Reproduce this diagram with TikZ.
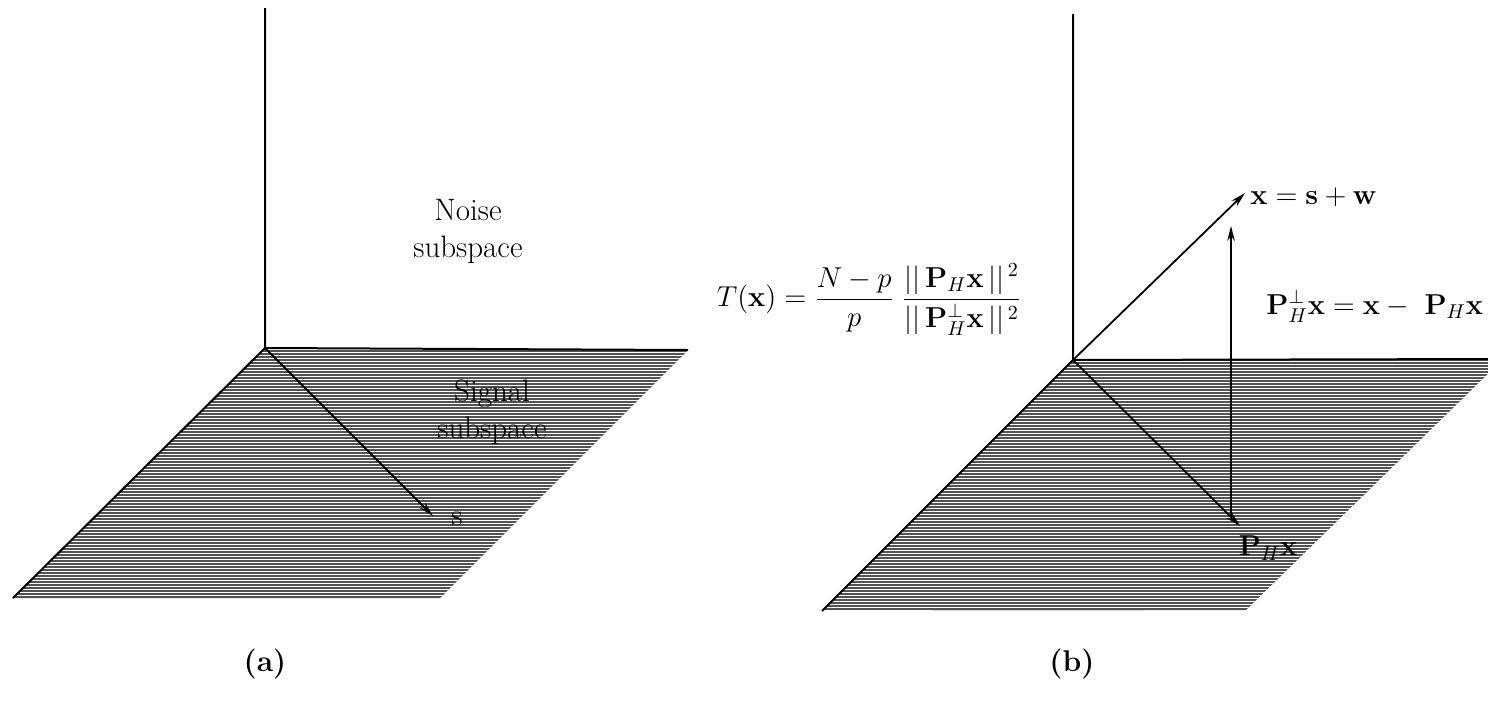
\documentclass[tikz,border=0pt]{standalone}
\usepackage{amsmath}
\usetikzlibrary{arrows.meta}
\begin{document}
\begin{tikzpicture}[x=0.5pt,y=-0.5pt,
  edge/.style={line width=1pt,black},
  vec/.style={line width=0.9pt,black,-{Stealth[length=7.5pt,width=3.8pt]}},
  lbl/.style={font=\fontsize{15.5}{18.5}\selectfont,align=center,inner sep=0pt},
  mlbl/.style={font=\fontsize{14.5}{18}\selectfont,align=center,inner sep=0pt},
  plane/.style={fill=black!68}]
\useasboundingbox (0,0) rectangle (1488,712);
\clip (0,0) rectangle (1488,712);
% ---------- panel (a) ----------
\coordinate (Oa) at (265,348);
\coordinate (TRa) at (688,350);
\coordinate (BRa) at (440,598);
\coordinate (BLa) at (13,598);
\coordinate (Ta) at (265,8);
\coordinate (Sa) at (433,516);
\path[plane] (Oa) -- (TRa) -- (BRa) -- (BLa) -- cycle;
\begin{scope}
\clip (Oa) -- (TRa) -- (BRa) -- (BLa) -- cycle;
\foreach \yy in {349,352,...,600} \draw[white,line width=0.5pt] (0,\yy) -- (700,\yy);
\end{scope}
\draw[edge] (Ta) -- (Oa) -- (TRa);
\draw[edge] (Oa) -- (BLa);
\draw[vec] (Oa) -- (Sa);
\node[lbl] (s) at (457,519) {s};
\node[lbl] (noise) at (468,231) {Noise\\subspace};
\node[lbl] (signal) at (492,412) {Signal\\subspace};
\node[lbl,font=\fontsize{15}{18}\selectfont\bfseries] (capa) at (265,664) {(a)};
% ---------- formula ----------
\node[mlbl] (formula) at (869,300) {$\displaystyle T(\mathbf{x}) = \frac{N-p}{p}\;\frac{||\,\mathbf{P}_H\mathbf{x}\,||^{\,2}}{||\,\mathbf{P}_H^{\perp}\mathbf{x}\,||^{\,2}}$};
% ---------- panel (b) ----------
\coordinate (Ob) at (1073,360);
\coordinate (TRb) at (1503,359);
\coordinate (BRb) at (1246,610);
\coordinate (BLb) at (822,611);
\coordinate (Tb) at (1073,14);
\coordinate (Xb) at (1245,193);
\coordinate (Pb) at (1240,526);
\coordinate (Vb0) at (1231,517);
\coordinate (Vb1) at (1231,226);
\path[plane] (Ob) -- (TRb) -- (BRb) -- (BLb) -- cycle;
\begin{scope}
\clip (Ob) -- (TRb) -- (BRb) -- (BLb) -- cycle;
\foreach \yy in {361,364,...,612} \draw[white,line width=0.5pt] (800,\yy) -- (1510,\yy);
\end{scope}
\draw[edge] (Tb) -- (Ob) -- (TRb);
\draw[edge] (Ob) -- (BLb);
\draw[vec] (Ob) -- (Xb);
\draw[vec] (Ob) -- (Pb);
\draw[vec] (Vb0) -- (Vb1);
\node[mlbl,anchor=west] (xlab) at (1250,197) {$\mathbf{x}=\mathbf{s}+\mathbf{w}$};
\node[mlbl,anchor=west] (perp) at (1266,306) {$\mathbf{P}_H^{\perp}\mathbf{x}=\mathbf{x}-\ \mathbf{P}_H\mathbf{x}$};
\node[mlbl] (phx) at (1268,548) {$\mathbf{P}_H\mathbf{x}$};
\node[lbl,font=\fontsize{15}{18}\selectfont\bfseries] (capb) at (1072,664) {(b)};
\end{tikzpicture}
\end{document}
